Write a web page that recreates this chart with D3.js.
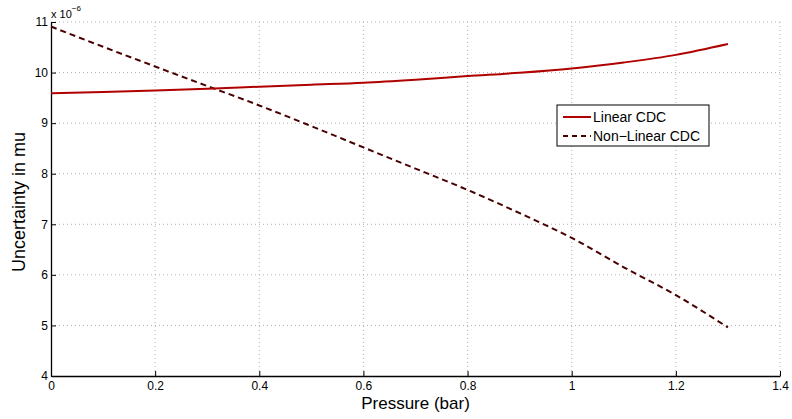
<!DOCTYPE html>
<html>
<head>
<meta charset="utf-8">
<script src="https://cdn.jsdelivr.net/npm/d3@7"></script>
<style>
  body { margin: 0; background: #fff; }
  svg { display: block; font-family: "Liberation Sans", Arial, sans-serif; }
  .grid line { stroke: #b0b0b0; stroke-dasharray: 1 3; stroke-width: 1; }
  .axis path, .axis line { stroke: #000; }
  .axis text { fill: #000; font-size: 12px; font-family: "Liberation Sans", Arial, sans-serif; }
</style>
</head>
<body>
<svg id="svg" width="792" height="419"></svg>
<script>
// pressure in bar
var pressure = [0, 0.1, 0.2, 0.3, 0.4, 0.5, 0.6, 0.7, 0.8, 0.9, 1.0, 1.1, 1.2, 1.3];
// uncertainty, in units of 1e-6
var linearCdc = [9.59, 9.615, 9.645, 9.68, 9.72, 9.76, 9.80, 9.86, 9.93, 9.995, 10.08, 10.2, 10.35, 10.565];
var nonLinearCdc = [10.91, 10.51, 10.12, 9.735, 9.35, 8.94, 8.52, 8.10, 7.68, 7.22, 6.73, 6.15, 5.60, 4.96];
var xTicks = [0, 0.2, 0.4, 0.6, 0.8, 1, 1.2, 1.4];
var yTicks = [4, 5, 6, 7, 8, 9, 10, 11];
var seriesNames = ["Linear CDC", "Non\u2212Linear CDC"];

var svg = d3.select("#svg");
var margin = {top: 22, right: 12, bottom: 43, left: 51},
  width = 792 - margin.left - margin.right,
  height = 419 - margin.top - margin.bottom;

var x = d3.scaleLinear().domain([0, 1.4]).range([0, width]);
var y = d3.scaleLinear().domain([4, 11]).range([height, 0]);

var g = svg.append("g").attr("transform", "translate(" + margin.left + "," + margin.top + ")");

// dotted grid
g.append("g").attr("class", "grid")
  .selectAll("line").data(xTicks.slice(1)).enter().append("line")
    .attr("x1", d => x(d)).attr("x2", d => x(d))
    .attr("y1", 0).attr("y2", height);
g.append("g").attr("class", "grid")
  .selectAll("line").data(yTicks.slice(1)).enter().append("line")
    .attr("x1", 0).attr("x2", width)
    .attr("y1", d => y(d)).attr("y2", d => y(d));

// axes, ticks pointing inward like matlab
var xAxis = g.append("g").attr("class", "axis")
  .attr("transform", "translate(0," + height + ")")
  .call(d3.axisBottom(x).tickValues(xTicks).tickSizeInner(-5).tickSizeOuter(0).tickPadding(5).tickFormat(d3.format("")));
xAxis.select(".domain").attr("stroke-width", 1.3);

var yAxis = g.append("g").attr("class", "axis")
  .call(d3.axisLeft(y).tickValues(yTicks).tickSizeInner(-5).tickSizeOuter(0).tickPadding(3).tickFormat(d3.format("")));
yAxis.select(".domain").attr("stroke-width", 1.3);

// exponent label
var expo = svg.append("text")
  .attr("x", margin.left).attr("y", 18)
  .attr("font-size", "11px").attr("fill", "#000");
expo.append("tspan").text("x 10");
expo.append("tspan").attr("dy", -7).attr("font-size", "8px").text("\u22126");

// axis titles
svg.append("text")
  .attr("x", margin.left + width / 2).attr("y", 409)
  .attr("text-anchor", "middle").attr("font-size", "17px")
  .text("Pressure (bar)");
svg.append("text")
  .attr("transform", "translate(25," + (margin.top + height / 2 + 3) + ") rotate(-90)")
  .attr("text-anchor", "middle").attr("font-size", "18px")
  .text("Uncertainty in mu");

var line = d3.line()
  .x((d, i) => x(pressure[i]))
  .y(d => y(d))
  .curve(d3.curveMonotoneX);

g.append("path")
  .datum(nonLinearCdc)
    .attr("fill", "none")
    .attr("stroke", "#4a0000")
    .attr("stroke-width", 2)
    .attr("stroke-dasharray", "6 4")
    .attr("d", line);

g.append("path")
  .datum(linearCdc)
    .attr("fill", "none")
    .attr("stroke", "#b00000")
    .attr("stroke-width", 2)
    .attr("d", line);

// legend
var legend = svg.append("g").attr("transform", "translate(557,105)");
legend.append("rect")
  .attr("width", 152).attr("height", 41)
  .attr("fill", "#fff").attr("stroke", "#000").attr("stroke-width", 1);
var styles = [{c: "#b00000", dash: null}, {c: "#4a0000", dash: "5 4"}];
seriesNames.forEach(function(name, i) {
  var yy = 12 + i * 19;
  legend.append("line")
    .attr("x1", 6).attr("x2", 34).attr("y1", yy).attr("y2", yy)
    .attr("stroke", styles[i].c).attr("stroke-width", 2)
    .attr("stroke-dasharray", styles[i].dash);
  legend.append("text")
    .attr("x", 36).attr("y", yy + 5)
    .attr("font-size", "14px").attr("fill", "#000")
    .text(name);
});
</script>
</body>
</html>
